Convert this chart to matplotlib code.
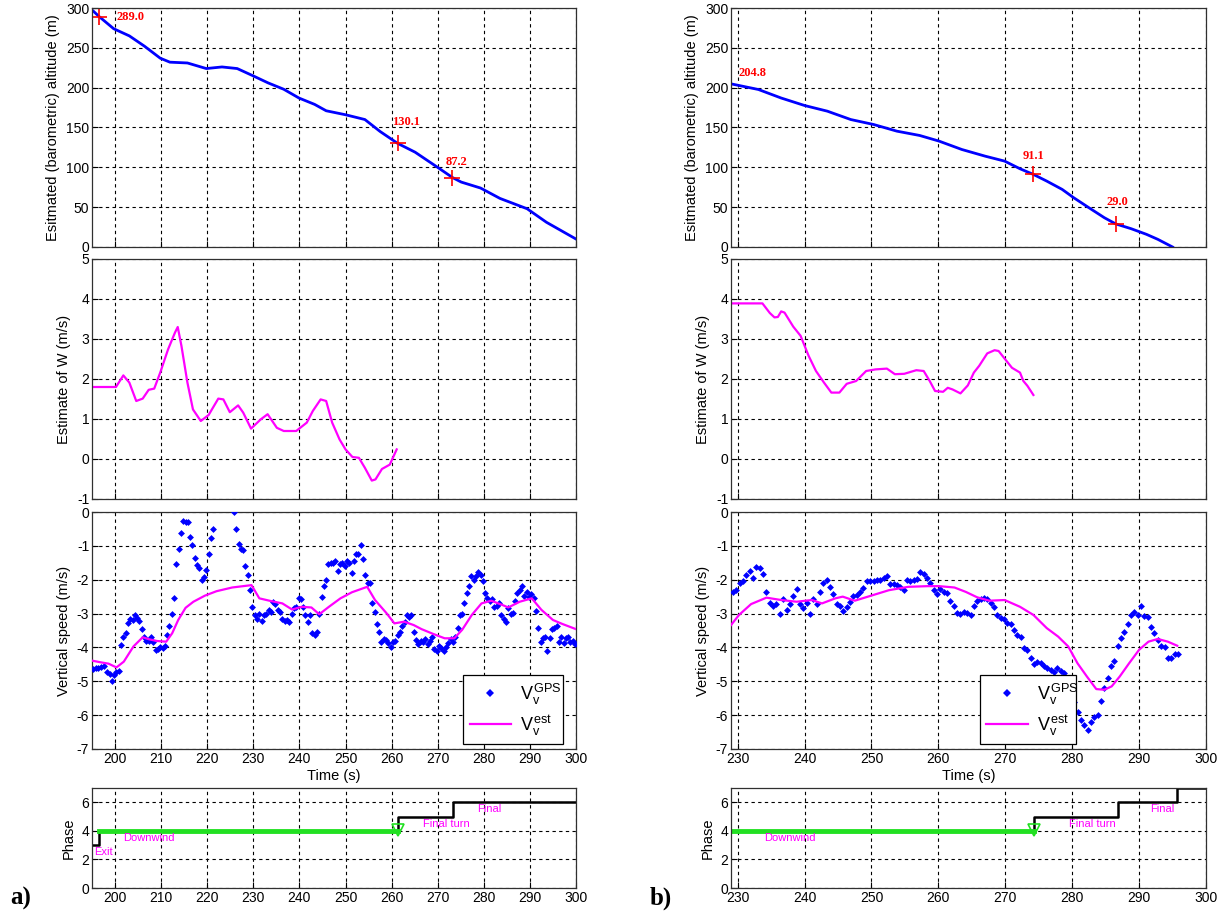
import matplotlib
matplotlib.use("Agg")
import matplotlib.pyplot as plt
from matplotlib.lines import Line2D

plt.rcParams['font.family'] = ['Liberation Sans', 'DejaVu Sans']
plt.rcParams['mathtext.fontset'] = 'custom'
plt.rcParams['mathtext.rm'] = 'Liberation Sans'
plt.rcParams['mathtext.it'] = 'Liberation Sans'
plt.rcParams['axes.unicode_minus'] = False

# ---------------- case a) ----------------
alt_t_a = [195.3, 196.6, 199.7, 203.1, 206.4, 209.8, 211.9, 215.7, 219.8, 223.2, 226.5,
           229.9, 233.2, 236.6, 239.9, 243.3, 245.8, 250.0, 254.2, 257.5, 261.3, 265.1,
           270.1, 273.2, 275.1, 279.3, 283.5, 289.4, 293.6, 300.0]
alt_a = [296, 289, 274, 265, 252, 237, 232, 231, 224, 226, 224,
         215, 206, 198, 187, 179, 171, 166, 160, 145, 130.1, 119,
         99.5, 87.2, 81.5, 74, 61, 48, 31, 10]
mark_t_a = [196.6, 261.3, 273.2]
mark_alt_a = [289.0, 130.1, 87.2]
mark_lbl_a = ['289.0', '130.1', '87.2']
lbl_t_a = [200.3, 260.0, 271.8]
lbl_y_a = [289.0, 157.0, 107.0]

w_t_a = [195.3, 200.2, 201.8, 203.1, 204.6, 206.0, 207.3, 208.5, 209.8, 211.5, 213.0,
         213.6, 214.4, 215.7, 216.9, 218.6, 220.3, 222.4, 223.5, 224.9, 226.7, 227.8,
         229.5, 231.6, 233.1, 235.1, 236.6, 239.3, 241.6, 242.9, 244.6, 245.8, 247.1,
         248.7, 250.0, 251.5, 252.9, 254.2, 255.7, 256.5, 257.9, 259.6, 261.1]
w_a = [1.80, 1.80, 2.09, 1.91, 1.45, 1.51, 1.73, 1.76, 2.16, 2.74, 3.16,
       3.30, 2.83, 1.91, 1.24, 0.95, 1.10, 1.51, 1.49, 1.17, 1.34, 1.16,
       0.76, 0.99, 1.12, 0.78, 0.70, 0.70, 0.91, 1.20, 1.49, 1.45, 0.91,
       0.49, 0.24, 0.05, 0.03, -0.22, -0.54, -0.51, -0.25, -0.14, 0.24]

vest_t_a = [195.0, 196.9, 198.6, 200.3, 201.9, 204.0, 206.0, 207.4, 209.1, 211.1, 212.4,
            213.7, 215.3, 217.0, 219.5, 222.0, 225.4, 229.6, 231.3, 233.8, 236.3, 238.4,
            240.5, 242.6, 244.3, 246.4, 248.9, 251.4, 254.7, 256.4, 258.9, 260.6, 262.7,
            264.8, 266.5, 269.0, 271.5, 273.6, 275.3, 277.4, 279.5, 281.6, 284.1, 285.3,
            287.8, 290.4, 292.5, 295.0, 297.1, 300.0]
vest_a = [-4.39, -4.44, -4.48, -4.59, -4.42, -3.97, -3.70, -3.76, -3.81, -3.83, -3.58,
          -3.19, -2.83, -2.65, -2.47, -2.34, -2.23, -2.16, -2.55, -2.63, -2.70, -2.88,
          -2.80, -2.82, -3.02, -2.80, -2.55, -2.37, -2.21, -2.60, -2.99, -3.29, -3.24,
          -3.34, -3.46, -3.60, -3.73, -3.73, -3.48, -3.04, -2.70, -2.62, -2.75, -2.82,
          -2.65, -2.55, -2.89, -3.19, -3.31, -3.46]

gps_t_a = [195.2, 195.8, 196.4, 197.0, 197.6, 198.2, 198.8, 199.3, 199.8, 200.3, 200.8,
           201.3, 201.8, 202.3, 202.8, 203.3, 203.8, 204.3, 204.8, 205.3, 205.8, 206.3,
           206.8, 207.3, 207.8, 208.3, 208.8, 209.3, 209.8, 210.3, 210.8, 211.3, 211.8,
           212.3, 212.8, 213.3, 213.8, 214.3, 214.8, 215.3, 215.8, 216.3, 216.8, 217.3,
           217.8, 218.3, 218.8, 219.3, 219.8, 220.3, 220.8, 221.3,
           225.8, 226.3, 226.8, 227.3, 227.8, 228.3, 228.8, 229.3, 229.8, 230.3, 230.8,
           231.3, 231.8, 232.3, 232.8, 233.3, 233.8, 234.3, 234.8, 235.3, 235.8, 236.3,
           236.8, 237.3, 237.8, 238.3, 238.8, 239.3, 239.8, 240.3, 240.8, 241.3, 241.8,
           242.3, 242.8, 243.3, 243.8, 244.3, 244.8, 245.3, 245.8, 246.3, 246.8, 247.3,
           247.8, 248.3, 248.8, 249.3, 249.8, 250.3, 250.8, 251.3, 251.8, 252.3, 252.8,
           253.3, 253.8, 254.3, 254.8, 255.3, 255.8, 256.3, 256.8, 257.3, 257.8, 258.3,
           258.8, 259.3, 259.8, 260.3, 260.8, 261.3, 261.8, 262.3, 262.8, 263.3, 263.8,
           264.3, 264.8, 265.3, 265.8, 266.3, 266.8, 267.3, 267.8, 268.3, 268.8, 269.3,
           269.8, 270.3, 270.8, 271.3, 271.8, 272.3, 272.8, 273.3, 273.8, 274.3, 274.8,
           275.3, 275.8, 276.3, 276.8, 277.3, 277.8, 278.3, 278.8, 279.3, 279.8, 280.3,
           280.8, 281.3, 281.8, 282.3, 282.8, 283.3, 283.8, 284.3, 284.8, 285.3, 285.8,
           286.3, 286.8, 287.3, 287.8, 288.3, 288.8, 289.3, 289.8, 290.3, 290.8, 291.3,
           291.8, 292.3, 292.8, 293.3, 293.8, 294.3, 294.8, 295.3, 295.8, 296.3, 296.8,
           297.3, 297.8, 298.3, 298.8, 299.3, 299.8]
gps_a = [-4.65, -4.62, -4.60, -4.58, -4.55, -4.72, -4.78, -5.00, -4.80, -4.72, -4.70,
         -3.92, -3.70, -3.58, -3.28, -3.15, -3.20, -3.05, -3.12, -3.22, -3.45, -3.68,
         -3.82, -3.80, -3.68, -3.85, -4.08, -4.05, -4.00, -4.02, -3.95, -3.62, -3.38,
         -3.02, -2.55, -1.55, -1.10, -0.62, -0.28, -0.30, -0.31, -0.73, -0.98, -1.35,
         -1.58, -1.65, -2.00, -1.92, -1.70, -1.25, -0.78, -0.50,
         0.00, -0.50, -0.95, -1.08, -1.12, -1.60, -1.85, -2.30, -2.80, -3.05, -3.15,
         -3.00, -3.22, -3.05, -3.00, -2.90, -2.95, -2.65, -2.72, -2.88, -2.95, -3.15,
         -3.22, -3.18, -3.25, -3.00, -2.85, -2.82, -2.55, -2.58, -2.80, -3.05, -3.25,
         -3.05, -3.58, -3.62, -3.55, -3.00, -2.52, -2.20, -2.02, -1.55, -1.52, -1.50,
         -1.45, -1.75, -1.55, -1.50, -1.60, -1.45, -1.52, -1.80, -1.45, -1.25, -1.25,
         -0.98, -1.40, -1.85, -2.10, -2.10, -2.70, -2.95, -3.30, -3.55, -3.85, -3.75,
         -3.78, -3.88, -3.98, -3.85, -3.80, -3.62, -3.55, -3.38, -3.25, -3.05, -3.10,
         -3.05, -3.55, -3.78, -3.90, -3.82, -3.85, -3.75, -3.90, -3.82, -3.70, -4.05,
         -4.10, -3.95, -4.02, -4.10, -3.98, -3.88, -3.75, -3.85, -3.70, -3.42, -3.05,
         -3.00, -2.70, -2.38, -2.18, -1.88, -2.02, -1.90, -1.78, -1.85, -2.05, -2.40,
         -2.55, -2.62, -2.58, -2.80, -2.78, -2.70, -3.05, -3.15, -3.25, -2.85, -3.02,
         -2.98, -2.62, -2.40, -2.30, -2.18, -2.48, -2.35, -2.52, -2.42, -2.55, -2.92,
         -3.42, -3.85, -3.72, -3.70, -4.12, -3.72, -3.45, -3.42, -3.38, -3.85, -3.70,
         -3.88, -3.72, -3.68, -3.85, -3.82, -3.90]

phase_t_a = [195.0, 196.6, 261.4, 273.3, 300.0]
phase_a = [3, 4, 5, 6, 6]
dw_t_a = [196.6, 261.4]
phase_lbl_a = ['Exit', 'Downwind', 'Final turn', 'Final']
phase_lbl_t_a = [195.5, 201.8, 266.9, 278.6]
phase_lbl_y_a = [2.5, 3.5, 4.5, 5.5]

# ---------------- case b) ----------------
alt_t_b = [229.0, 233.1, 236.5, 240.0, 243.4, 246.9, 250.3, 253.8, 257.2, 260.1, 263.5,
           267.0, 269.9, 272.2, 274.2, 276.2, 278.5, 280.2, 282.5, 284.8, 286.5, 288.8,
           291.1, 292.8, 295.0]
alt_b = [204.8, 197.7, 187, 177.6, 170.5, 160, 153.8, 145.4, 140, 132.9, 122.4,
         114, 107.8, 98.2, 91.1, 82.7, 72.3, 62, 49.3, 36.8, 29.0, 23,
         15.9, 9.6, 0]
mark_t_b = [274.2, 286.5]
mark_alt_b = [91.1, 29.0]
lbl_b = ['204.8', '91.1', '29.0']
lbl_t_b = [230.1, 272.6, 285.1]
lbl_y_b = [218.0, 114.0, 56.0]

w_t_b = [229.0, 233.7, 234.8, 235.5, 236.0, 236.5, 237.0, 238.3, 239.4, 240.6, 241.7,
         242.9, 244.0, 245.2, 246.3, 247.7, 249.2, 250.6, 252.3, 253.5, 254.9, 256.7,
         257.8, 258.7, 259.5, 260.7, 261.4, 262.1, 263.3, 264.4, 265.3, 266.1, 267.3,
         268.4, 269.0, 269.9, 271.0, 272.2, 272.7, 273.3, 274.2]
w_b = [3.89, 3.89, 3.65, 3.54, 3.55, 3.69, 3.66, 3.31, 3.08, 2.58, 2.20,
       1.91, 1.66, 1.66, 1.88, 1.95, 2.20, 2.24, 2.26, 2.12, 2.13, 2.22,
       2.20, 1.95, 1.70, 1.68, 1.78, 1.74, 1.64, 1.84, 2.16, 2.33, 2.64,
       2.72, 2.70, 2.51, 2.28, 2.16, 1.95, 1.83, 1.60]

vest_t_b = [229.0, 230.2, 232.0, 234.3, 236.5, 238.8, 241.1, 242.6, 244.6, 245.7, 247.5,
            249.8, 252.6, 255.5, 258.4, 260.1, 262.4, 264.1, 265.8, 267.6, 269.9, 272.2,
            274.2, 276.2, 277.9, 279.4, 280.8, 282.2, 283.6, 284.8, 285.9, 287.1, 288.5,
            290.0, 291.4, 292.8, 294.3, 295.7]
vest_b = [-3.34, -3.04, -2.72, -2.53, -2.60, -2.65, -2.60, -2.70, -2.55, -2.50, -2.62,
          -2.48, -2.31, -2.21, -2.19, -2.19, -2.23, -2.36, -2.52, -2.62, -2.60, -2.80,
          -3.04, -3.43, -3.68, -3.97, -4.47, -4.86, -5.23, -5.25, -5.15, -4.86, -4.47,
          -4.07, -3.83, -3.75, -3.83, -3.95]

gps_t_b = [229.3, 229.8, 230.3, 230.8, 231.3, 231.8, 232.3, 232.8, 233.3, 233.8, 234.3,
           234.8, 235.3, 235.8, 236.3, 236.8, 237.3, 237.8, 238.3, 238.8, 239.3, 239.8,
           240.3, 240.8, 241.3, 241.8, 242.3, 242.8, 243.3, 243.8, 244.3, 244.8, 245.3,
           245.8, 246.3, 246.8, 247.3, 247.8, 248.3, 248.8, 249.3, 249.8, 250.3, 250.8,
           251.3, 251.8, 252.3, 252.8, 253.3, 253.8, 254.3, 254.8, 255.3, 255.8, 256.3,
           256.8, 257.3, 257.8, 258.3, 258.8, 259.3, 259.8, 260.3, 260.8, 261.3, 261.8,
           262.3, 262.8, 263.3, 263.8, 264.3, 264.8, 265.3, 265.8, 266.3, 266.8, 267.3,
           267.8, 268.3, 268.8, 269.3, 269.8, 270.3, 270.8, 271.3, 271.8, 272.3, 272.8,
           273.3, 273.8, 274.3, 274.8, 275.3, 275.8, 276.3, 276.8, 277.3, 277.8, 278.3,
           278.8, 279.3, 279.8, 280.3, 280.8, 281.3, 281.8, 282.3, 282.8, 283.3, 283.8,
           284.3, 284.8, 285.3, 285.8, 286.3, 286.8, 287.3, 287.8, 288.3, 288.8, 289.3,
           289.8, 290.3, 290.8, 291.3, 291.8, 292.3, 292.8, 293.3, 293.8, 294.3, 294.8,
           295.3, 295.8]
gps_b = [-2.35, -2.30, -2.10, -2.05, -1.85, -1.75, -1.95, -1.62, -1.65, -1.82, -2.35,
         -2.68, -2.78, -2.72, -3.02, -2.58, -2.88, -2.72, -2.48, -2.28, -2.72, -2.85,
         -2.70, -3.02, -2.58, -2.72, -2.35, -2.10, -2.02, -2.22, -2.42, -2.72, -2.78,
         -2.92, -2.80, -2.65, -2.48, -2.45, -2.35, -2.25, -2.05, -2.05, -2.05, -2.02,
         -2.00, -1.95, -1.88, -2.12, -2.12, -2.15, -2.22, -2.30, -2.02, -2.05, -2.02,
         -1.98, -1.78, -1.82, -1.95, -2.10, -2.30, -2.42, -2.28, -2.35, -2.38, -2.62,
         -2.78, -2.98, -3.02, -2.95, -2.98, -3.05, -2.78, -2.62, -2.58, -2.55, -2.58,
         -2.68, -2.82, -3.05, -3.12, -3.15, -3.28, -3.30, -3.48, -3.62, -3.68, -4.02,
         -4.08, -4.30, -4.48, -4.42, -4.45, -4.55, -4.60, -4.68, -4.72, -4.62, -4.70,
         -4.75, -5.00, -5.30, -5.60, -5.90, -6.15, -6.28, -6.45, -6.20, -6.05, -6.00,
         -5.58, -5.20, -4.90, -4.55, -4.40, -3.95, -3.72, -3.55, -3.30, -3.05, -2.95,
         -3.05, -2.78, -3.08, -3.10, -3.40, -3.58, -3.78, -3.95, -4.00, -4.32, -4.32,
         -4.20, -4.20]

phase_t_b = [229.0, 274.3, 286.8, 295.6, 300.0]
phase_b = [4, 5, 6, 7, 7]
dw_t_b = [229.0, 274.3]
phase_lbl_b = ['Downwind', 'Final turn', 'Final']
phase_lbl_t_b = [234.0, 279.5, 291.7]
phase_lbl_y_b = [3.5, 4.5, 5.5]

W, H = 1227, 911
fig = plt.figure(figsize=(W / 100, H / 100), dpi=100)

def frac(x0, y0, x1, y1):
    return [x0 / W, 1 - y1 / H, (x1 - x0) / W, (y1 - y0) / H]

rows = [(8, 247), (259, 499), (512, 749), (788, 888)]
cols = [(92, 576), (731, 1206)]
FS = 10.5
TS = 10
GRID = dict(color='black', linestyle=(0, (3, 3)), linewidth=0.8)


def style(ax, xlim, xticks, ylim, yticks, show_x):
    ax.set_xlim(*xlim)
    ax.set_ylim(*ylim)
    ax.set_xticks(xticks)
    ax.set_yticks(yticks)
    ax.grid(True, **GRID)
    ax.tick_params(direction='in', length=4, labelsize=TS, width=0.8, pad=2)
    if not show_x:
        ax.set_xticklabels([])
    for s in ax.spines.values():
        s.set_linewidth(0.9)
        s.set_color('#303030')


def make_column(c, xlim, xticks, alt_t, alt, mk_t, mk_y, lbls, lbl_t, lbl_y,
                w_t, w, gps_t, gps, v_t, v, ph_t, ph, dw_t, pl, pl_t, pl_y, leg_box):
    x0, x1 = cols[c]
    # altitude
    ax = fig.add_axes(frac(x0, rows[0][0], x1, rows[0][1]))
    ax.plot(alt_t, alt, color='blue', lw=2)
    ax.plot(mk_t, mk_y, '+', color='red', ms=12, mew=1.2)
    for s, tx, ty in zip(lbls, lbl_t, lbl_y):
        ax.text(tx, ty, s, color='red', fontsize=9, fontweight='bold',
                family='Liberation Serif', va='center', ha='left')
    style(ax, xlim, xticks, (0, 300), range(0, 301, 50), False)
    ax.set_ylabel('Esitmated (barometric) altitude (m)', fontsize=FS)

    # wind estimate
    ax = fig.add_axes(frac(x0, rows[1][0], x1, rows[1][1]))
    ax.plot(w_t, w, color='magenta', lw=1.6)
    style(ax, xlim, xticks, (-1, 5), range(-1, 6), False)
    ax.set_ylabel('Estimate of W (m/s)', fontsize=FS)

    # vertical speed
    ax = fig.add_axes(frac(x0, rows[2][0], x1, rows[2][1]))
    ax.plot(gps_t, gps, 'D', color='blue', ms=3.5, mew=0, zorder=3)
    ax.plot(v_t, v, color='magenta', lw=1.6, zorder=4)
    style(ax, xlim, xticks, (-7, 0), range(-7, 1), True)
    ax.set_ylabel('Vertical speed (m/s)', fontsize=FS)
    ax.set_xlabel('Time (s)', fontsize=FS, labelpad=2)
    handles = [Line2D([], [], marker='D', color='blue', ls='none', ms=4, mew=0),
               Line2D([], [], color='magenta', lw=1.6)]
    leg = ax.legend(handles, [r'$V_{\mathrm{v}}^{\mathrm{GPS}}$', r'$V_{\mathrm{v}}^{\mathrm{est}}$'],
                    loc='lower left', bbox_to_anchor=leg_box, mode='expand',
                    fontsize=13, fancybox=False, framealpha=1, edgecolor='black',
                    handlelength=2.3, handletextpad=0.5, borderaxespad=0,
                    borderpad=0.35, labelspacing=0.35)
    leg.get_frame().set_linewidth(0.9)
    leg.set_zorder(10)

    # phase
    ax = fig.add_axes(frac(x0, rows[3][0], x1, rows[3][1]))
    ax.step(ph_t, ph, where='post', color='black', lw=1.8)
    ax.plot(dw_t, [4, 4], color='#22e022', lw=3.5)
    ax.plot([dw_t[1]], [4.05], 'v', color='#22e022', mfc='none', ms=8, mew=1.2)
    for s, tx, ty in zip(pl, pl_t, pl_y):
        ax.text(tx, ty, s, color='magenta', fontsize=8, va='center', ha='left')
    style(ax, xlim, xticks, (0, 7), range(0, 7, 2), True)
    ax.set_ylabel('Phase', fontsize=FS)


make_column(0, (195, 300), range(200, 301, 10), alt_t_a, alt_a, mark_t_a, mark_alt_a,
            mark_lbl_a, lbl_t_a, lbl_y_a, w_t_a, w_a, gps_t_a, gps_a, vest_t_a, vest_a,
            phase_t_a, phase_a, dw_t_a, phase_lbl_a, phase_lbl_t_a, phase_lbl_y_a,
            (0.767, 0.021, 0.206, 0.287))
make_column(1, (229, 300), range(230, 301, 10), alt_t_b, alt_b, mark_t_b, mark_alt_b,
            lbl_b, lbl_t_b, lbl_y_b, w_t_b, w_b, gps_t_b, gps_b, vest_t_b, vest_b,
            phase_t_b, phase_b, dw_t_b, phase_lbl_b, phase_lbl_t_b, phase_lbl_y_b,
            (0.524, 0.021, 0.202, 0.287))

fig.text(10 / W, 1 - 898 / H, 'a)', fontsize=18, fontweight='bold',
         family='Liberation Serif', va='center', ha='left')
fig.text(650 / W, 1 - 898 / H, 'b)', fontsize=18, fontweight='bold',
         family='Liberation Serif', va='center', ha='left')

fig.savefig('out.png', dpi=100, facecolor='white')
